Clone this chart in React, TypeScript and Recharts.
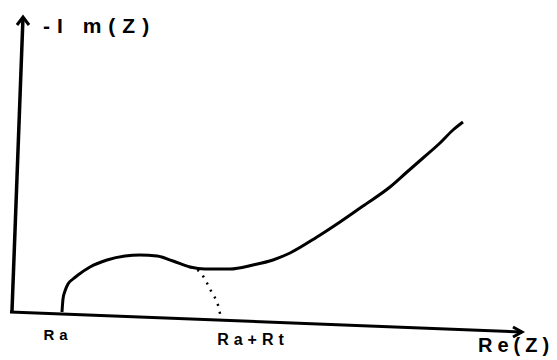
import React from 'react';
import { LineChart, Line, XAxis, YAxis, ReferenceLine, ReferenceDot } from 'recharts';

// Nyquist plot (arbitrary units)
const impedanceCurve = [
  { x: 5.0, y: -0.1 },
  { x: 5.1, y: 1.2 },
  { x: 5.3, y: 2.0 },
  { x: 5.6, y: 2.7 },
  { x: 6.1, y: 3.2 },
  { x: 6.6, y: 3.6 },
  { x: 7.8, y: 4.4 },
  { x: 9.5, y: 5.1 },
  { x: 11.3, y: 5.5 },
  { x: 12.8, y: 5.6 },
  { x: 14.5, y: 5.5 },
  { x: 16.1, y: 5.0 },
  { x: 17.8, y: 4.4 },
  { x: 19.3, y: 4.2 },
  { x: 21.8, y: 4.2 },
  { x: 24.1, y: 4.6 },
  { x: 26.1, y: 5.1 },
  { x: 27.8, y: 5.8 },
  { x: 30.5, y: 7.4 },
  { x: 32.8, y: 8.9 },
  { x: 35.1, y: 10.5 },
  { x: 37.8, y: 12.4 },
  { x: 39.5, y: 13.9 },
  { x: 41.1, y: 15.3 },
  { x: 42.8, y: 16.8 },
  { x: 44.1, y: 18.1 },
  { x: 45.1, y: 18.9 },
];

const semicircleExtrapolation = [
  { x: 17.8, y: 4.4 },
  { x: 18.8, y: 3.9 },
  { x: 19.5, y: 2.8 },
  { x: 20.0, y: 1.8 },
  { x: 20.6, y: 0.6 },
  { x: 20.9, y: -0.7 },
];

// hand-drawn axes (slightly tilted in the scan)
const xAxisStart = { x: -0.2, y: -0.1 };
const xAxisEnd = { x: 51.0, y: -2.1 };
const yAxisStart = { x: 0, y: 0 };
const yAxisEnd = { x: 1.1, y: 29.4 };

const labelTexts = ['Ra', 'Ra+Rt', 'Re(Z)', '-I m(Z)'];
const labelX = [4.6, 24.1, 46.6, 3.1];
const labelY = [-2.3, -2.8, -3.4, 28.6];

const FONT = '"Liberation Sans", Arial, sans-serif';

const UpArrow = (props: any) => {
  const { cx, cy } = props;
  return (
    <path
      d={`M${cx - 6},${cy + 8} L${cx},${cy} L${cx + 6},${cy + 8}`}
      fill="none"
      stroke="#000"
      strokeWidth={3}
    />
  );
};

const RightArrow = (props: any) => {
  const { cx, cy } = props;
  return (
    <path
      d={`M${cx - 9},${cy - 5} L${cx},${cy} L${cx - 9},${cy + 5}`}
      fill="none"
      stroke="#000"
      strokeWidth={3}
    />
  );
};

const makeText = (text: string, size: number, spacing: number, anchor: string) => (props: any) => {
  const { cx, cy } = props;
  return (
    <text
      x={cx}
      y={cy}
      textAnchor={anchor as any}
      dominantBaseline="central"
      fontFamily={FONT}
      fontWeight="bold"
      fontSize={size}
      letterSpacing={spacing}
      fill="#000"
    >
      {text}
    </text>
  );
};

const labelStyles = [
  { size: 15, spacing: 5, anchor: 'middle' },
  { size: 16, spacing: 5, anchor: 'middle' },
  { size: 20, spacing: 5, anchor: 'start' },
  { size: 21, spacing: 7, anchor: 'start' },
];

export default function App() {
  return (
    <div style={{ position: 'absolute', left: 0, top: 0, background: '#fff' }}>
      <LineChart width={557} height={360} margin={{ top: 0, right: 0, bottom: 0, left: 0 }}>
        <XAxis type="number" dataKey="x" domain={[-1.2, 54.5]} hide allowDataOverflow />
        <YAxis type="number" dataKey="y" domain={[-4.9, 31.1]} hide allowDataOverflow />
        <ReferenceLine segment={[xAxisStart, xAxisEnd]} stroke="#000" strokeWidth={3} ifOverflow="visible" />
        <ReferenceLine segment={[yAxisStart, yAxisEnd]} stroke="#000" strokeWidth={3.5} ifOverflow="visible" />
        <ReferenceDot x={yAxisEnd.x} y={yAxisEnd.y} r={0} ifOverflow="visible" shape={UpArrow} />
        <ReferenceDot x={xAxisEnd.x} y={xAxisEnd.y} r={0} ifOverflow="visible" shape={RightArrow} />
        <Line
          data={semicircleExtrapolation}
          dataKey="y"
          type="monotone"
          stroke="#000"
          strokeWidth={2.5}
          strokeDasharray="2 6"
          dot={false}
          activeDot={false}
          isAnimationActive={false}
        />
        <Line
          data={impedanceCurve}
          dataKey="y"
          type="monotone"
          stroke="#000"
          strokeWidth={3}
          strokeLinecap="butt"
          dot={false}
          activeDot={false}
          isAnimationActive={false}
        />
        {labelTexts.map((t, i) => (
          <ReferenceDot
            key={t}
            x={labelX[i]}
            y={labelY[i]}
            r={0}
            ifOverflow="visible"
            shape={makeText(t, labelStyles[i].size, labelStyles[i].spacing, labelStyles[i].anchor)}
          />
        ))}
      </LineChart>
    </div>
  );
}
